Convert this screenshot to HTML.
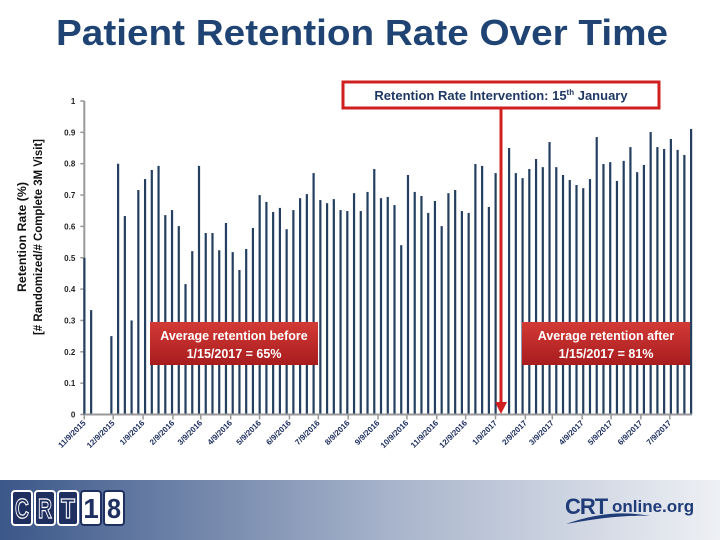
<!DOCTYPE html>
<html><head><meta charset="utf-8"><style>
html,body{margin:0;padding:0;background:#fff;}
svg{display:block;font-family:"Liberation Sans",sans-serif;}
</style></head><body>
<svg id="chart" width="720" height="540" viewBox="0 0 720 540">
<defs>
<linearGradient id="foot" x1="0" x2="1" y1="0" y2="0"><stop offset="0" stop-color="#3b5789"/><stop offset="0.55" stop-color="#a9b5cc"/><stop offset="1" stop-color="#eef0f4"/></linearGradient>
<linearGradient id="redbox" x1="0" x2="0" y1="0" y2="1"><stop offset="0" stop-color="#d33a36"/><stop offset="1" stop-color="#a81c1e"/></linearGradient>
</defs>
<text x="362" y="45" text-anchor="middle" font-size="36" font-weight="bold" fill="#1f4474" textLength="612" lengthAdjust="spacingAndGlyphs">Patient Retention Rate Over Time</text>
<g font-weight="bold" font-size="12" fill="#111" text-anchor="middle">
<text transform="translate(26,237) rotate(-90)" textLength="110" lengthAdjust="spacingAndGlyphs">Retention Rate (%)</text>
<text transform="translate(42,237) rotate(-90)" textLength="196" lengthAdjust="spacingAndGlyphs">[# Randomized/# Complete 3M Visit]</text>
</g>
<g id="yaxis"></g>
<g id="bars"></g>
<g id="xaxis"></g>
<rect x="343" y="82" width="316" height="26" fill="#fff" stroke="#d01f1f" stroke-width="3"/>
<text x="501" y="100" text-anchor="middle" font-size="13" font-weight="bold" fill="#1f3864">Retention Rate Intervention: 15<tspan font-size="8" dy="-5">th</tspan><tspan dy="5"> January</tspan></text>
<line x1="501" y1="109" x2="501" y2="404" stroke="#d01f1f" stroke-width="3"/>
<polygon points="495,402 507,402 501,414" fill="#d01f1f"/>
<g>
<rect x="150" y="322" width="168" height="43" fill="url(#redbox)"/>
<text x="234" y="340" text-anchor="middle" font-size="12.5" font-weight="bold" fill="#fff">Average retention before</text>
<text x="234" y="358" text-anchor="middle" font-size="12.5" font-weight="bold" fill="#fff">1/15/2017 = 65%</text>
</g>
<g>
<rect x="522" y="322" width="168" height="43" fill="url(#redbox)"/>
<text x="606" y="340" text-anchor="middle" font-size="12.5" font-weight="bold" fill="#fff">Average retention after</text>
<text x="606" y="358" text-anchor="middle" font-size="12.5" font-weight="bold" fill="#fff">1/15/2017 = 81%</text>
</g>
<rect x="0" y="480" width="720" height="60" fill="url(#foot)"/>
<g font-weight="bold" font-size="28" text-anchor="middle">
<rect x="12" y="491" width="20" height="34" rx="3" fill="#1f3060" stroke="#fff" stroke-width="2"/>
<rect x="35" y="491" width="20" height="34" rx="3" fill="#1f3060" stroke="#fff" stroke-width="2"/>
<rect x="58" y="491" width="20" height="34" rx="3" fill="#1f3060" stroke="#fff" stroke-width="2"/>
<rect x="81" y="491" width="20" height="34" rx="3" fill="#fff" stroke="#1f3060" stroke-width="2"/>
<rect x="104" y="491" width="20" height="34" rx="3" fill="#fff" stroke="#1f3060" stroke-width="2"/>
<text x="22" y="518" fill="#1f3060" stroke="#fff" stroke-width="1.2" textLength="14" lengthAdjust="spacingAndGlyphs">C</text>
<text x="45" y="518" fill="#1f3060" stroke="#fff" stroke-width="1.2" textLength="14" lengthAdjust="spacingAndGlyphs">R</text>
<text x="68" y="518" fill="#1f3060" stroke="#fff" stroke-width="1.2" textLength="14" lengthAdjust="spacingAndGlyphs">T</text>
<text x="91" y="518" fill="#1f3060">1</text>
<text x="114" y="518" fill="#1f3060" textLength="14" lengthAdjust="spacingAndGlyphs">8</text>
</g>
<g>
<text x="565" y="514" font-size="22" font-weight="bold" fill="#1f3c78" letter-spacing="-1">CRT</text>
<text x="612" y="512" font-size="17" font-weight="bold" fill="#1f3c78">online.org</text>
<path d="M566 524 Q610 508 650 516 Q620 514 566 524Z" fill="#1f3c78"/>
</g>
<script>
const values = [0.5,0.333,0,0,0.25,0.80,0.633,0.30,0.716,0.751,0.78,0.793,0.636,0.652,0.601,0.416,0.521,0.793,0.579,0.579,0.524,0.611,0.518,0.461,0.528,0.595,0.70,0.678,0.646,0.659,0.591,0.652,0.69,0.703,0.77,0.684,0.674,0.687,0.652,0.649,0.706,0.649,0.71,0.783,
0.69,0.694,0.668,0.54,0.764,0.71,0.697,0.643,0.681,0.601,0.706,0.716,0.649,0.643,0.799,0.793,0.662,0.77,0,0.85,0.77,0.754,0.783,0.815,0.789,0.869,0.789,0.764,0.748,0.732,0.722,0.751,0.885,0.799,0.805,0.745,0.809,0.853,0.773,0.796,0.901,0.853,0.847,0.879,0.844,0.828,0.911];
const yTicks = [0,0.1,0.2,0.3,0.4,0.5,0.6,0.7,0.8,0.9,1];
const yTickLabels = ["0","0.1","0.2","0.3","0.4","0.5","0.6","0.7","0.8","0.9","1"];
const monthLabels = ["11/9/2015","12/9/2015","1/9/2016","2/9/2016","3/9/2016","4/9/2016","5/9/2016","6/9/2016","7/9/2016","8/9/2016","9/9/2016","10/9/2016","11/9/2016","12/9/2016","1/9/2017","2/9/2017","3/9/2017","4/9/2017","5/9/2017","6/9/2017","7/9/2017"];
const NS="http://www.w3.org/2000/svg";
const X0=84.3, STEP=(691-84.3)/90, Y0=414.5, YH=313.5;
const xw = i => X0 + i*STEP;
const yv = v => Y0 - v*YH;
function mk(tag, attrs, parent){const e=document.createElementNS(NS,tag);for(const k in attrs)e.setAttribute(k,attrs[k]);parent.appendChild(e);return e;}
const ya=document.getElementById('yaxis'), bg=document.getElementById('bars'), xa=document.getElementById('xaxis');
mk('line',{x1:X0,y1:Y0,x2:X0,y2:yv(1),stroke:'#999','stroke-width':2},ya);
yTicks.forEach((t,i)=>{
  const l=mk('line',{x1:X0-4,x2:X0,y1:yv(t),y2:yv(t),stroke:'#999','stroke-width':1.5},ya);
  
  
  const tx=mk('text',{x:X0-9,y:yv(t)+3,'text-anchor':'end','font-size':8,'font-weight':'bold',fill:'#222'},ya);
  tx.textContent=yTickLabels[i];
  
  
});
values.forEach((v,i)=>{
  if(v<=0) return;
  const r=mk('rect',{x:xw(i)-1,y:yv(v),width:2.2,height:Y0-yv(v),fill:'#243f60'},bg);
  
  
});
mk('line',{x1:X0,y1:Y0,x2:692,y2:Y0,stroke:'#999','stroke-width':2},xa);
const start=Date.UTC(2015,10,9);
monthLabels.forEach(lbl=>{
  const p=lbl.split('/');const d=Date.UTC(+p[2],+p[0]-1,+p[1]);
  const idx=(d-start)/(7*864e5);
  const x=xw(idx);
  const t=mk('line',{x1:x,x2:x,y1:Y0,y2:Y0+5,stroke:'#999','stroke-width':1.5},xa);
  
  
  const tx=mk('text',{transform:`translate(${x+2},${Y0+9}) rotate(-45)`,'text-anchor':'end','font-size':8,'font-weight':'bold',fill:'#1f3060'},xa);
  tx.textContent=lbl;
  
  
});
</script>
</svg>
</body></html>
